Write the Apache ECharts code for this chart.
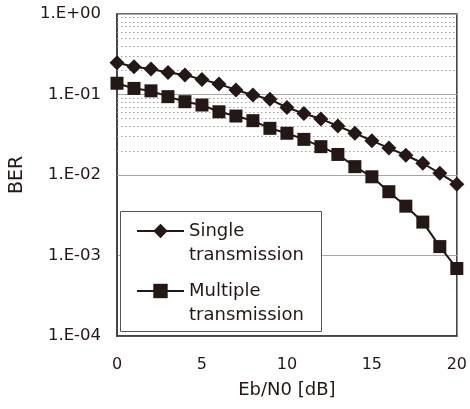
<!DOCTYPE html>
<html>
<head>
<meta charset="utf-8">
<script src="https://cdn.jsdelivr.net/npm/echarts@6/dist/echarts.min.js"></script>
<style>
  html, body { margin: 0; padding: 0; background: #fff; }
  #chart { width: 470px; height: 409px; }
</style>
</head>
<body>
<div id="chart"></div>
<script>
  // Eb/N0 [dB]
  const ebn0 = [0, 1, 2, 3, 4, 5, 6, 7, 8, 9, 10, 11, 12, 13, 14, 15, 16, 17, 18, 19, 20]
  const singleBer = [0.248, 0.221, 0.207, 0.188, 0.175, 0.154, 0.135, 0.114, 0.0986, 0.087, 0.069,
    0.058, 0.0497, 0.0406, 0.033, 0.0267, 0.0216, 0.0176, 0.014, 0.0105, 0.0077]
  const multipleBer = [0.138, 0.119, 0.111, 0.094, 0.0814, 0.074, 0.061, 0.054, 0.0473, 0.038, 0.033,
    0.0277, 0.0225, 0.018, 0.0127, 0.0095, 0.0062, 0.0041, 0.0026, 0.00129, 0.00069]
  const yTickLabels = ['1.E-04', '1.E-03', '1.E-02', '1.E-01', '1.E+00']
  const xTickLabels = ['0', '5', '10', '15', '20']
  // dotted minor grid at 2..9 within each decade
  const minorGrid = [
    2e-4, 3e-4, 4e-4, 5e-4, 6e-4, 7e-4, 8e-4, 9e-4,
    2e-3, 3e-3, 4e-3, 5e-3, 6e-3, 7e-3, 8e-3, 9e-3,
    2e-2, 3e-2, 4e-2, 5e-2, 6e-2, 7e-2, 8e-2, 9e-2,
    2e-1, 3e-1, 4e-1, 5e-1, 6e-1, 7e-1, 8e-1, 9e-1
  ]

  const ink = '#231815'
  const font = 'DejaVu Sans'

  const chart = echarts.init(document.getElementById('chart'))
  chart.setOption({
    animation: false,
    textStyle: { fontFamily: font, color: ink },
    grid: {
      left: 116,
      right: 12,
      top: 14,
      bottom: 73,
      show: true,
      borderColor: '#3a3a3a',
      borderWidth: 1.5
    },
    xAxis: {
      type: 'value',
      min: 0,
      max: 20,
      interval: 5,
      name: 'Eb/N0 [dB]',
      nameLocation: 'middle',
      nameGap: 45,
      nameTextStyle: { fontSize: 18, color: ink, fontFamily: font },
      axisLine: { lineStyle: { color: '#3a3a3a', width: 1.5 } },
      axisTick: { show: false },
      splitLine: { show: false },
      axisLabel: {
        fontSize: 16,
        color: ink,
        margin: 21,
        formatter: (v, i) => xTickLabels[i]
      }
    },
    yAxis: {
      type: 'log',
      logBase: 10,
      min: 1e-4,
      max: 1,
      name: 'BER',
      nameLocation: 'middle',
      nameGap: 90,
      nameTextStyle: { fontSize: 19, color: ink, fontFamily: font },
      axisLine: { lineStyle: { color: '#3a3a3a', width: 1.5 } },
      axisTick: { show: false },
      splitLine: { lineStyle: { color: '#a8a8a8', width: 1 } },
      axisLabel: {
        fontSize: 16.5,
        color: ink,
        margin: 16,
        formatter: (v, i) => yTickLabels[i]
      }
    },
    legend: {
      data: ['Single transmission', 'Multiple transmission'],
      orient: 'vertical',
      left: 136,
      top: 195,
      padding: 0,
      itemWidth: 47,
      itemHeight: 18,
      itemGap: -12,
      formatter: name => ' \n' + name.replace(' ', '\n'),
      textStyle: { fontSize: 18, lineHeight: 24, color: ink, fontFamily: font }
    },
    graphic: [{
      type: 'rect',
      z: 3,
      shape: { x: 120.5, y: 211.5, width: 201, height: 120 },
      style: { fill: '#fff', stroke: '#555', lineWidth: 1 }
    }],
    series: [
      {
        name: 'minor',
        type: 'line',
        data: [],
        silent: true,
        markLine: {
          silent: true,
          symbol: 'none',
          label: { show: false },
          lineStyle: { color: '#a0a0a0', width: 1, type: [1.5, 2.5] },
          data: minorGrid.map(v => ({ yAxis: v }))
        }
      },
      {
        name: 'Single transmission',
        type: 'line',
        data: ebn0.map((x, i) => [x, singleBer[i]]),
        symbol: 'diamond',
        symbolSize: 15,
        z: 5,
        itemStyle: { color: ink },
        lineStyle: { color: ink, width: 2 }
      },
      {
        name: 'Multiple transmission',
        type: 'line',
        data: ebn0.map((x, i) => [x, multipleBer[i]]),
        symbol: 'rect',
        symbolSize: 13,
        z: 5,
        itemStyle: { color: ink },
        lineStyle: { color: ink, width: 2 }
      }
    ]
  })
</script>
</body>
</html>
